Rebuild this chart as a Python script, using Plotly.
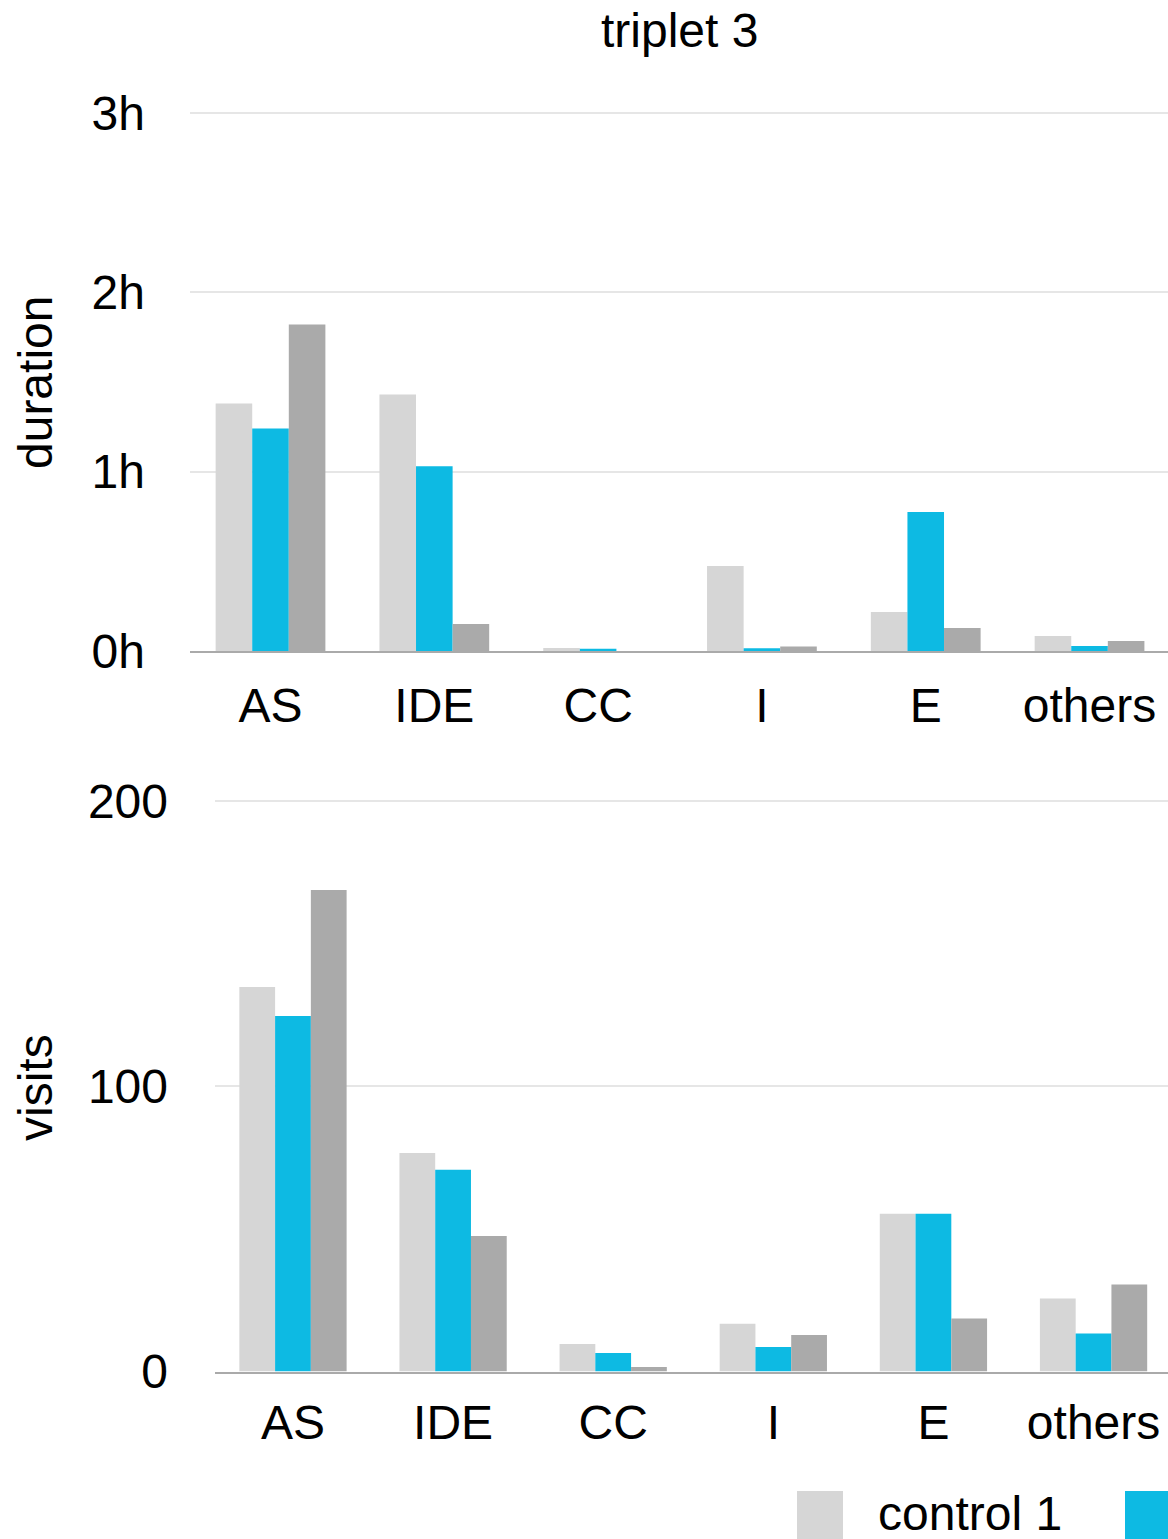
import plotly.graph_objects as go

categories = ["AS", "IDE", "CC", "I", "E", "others"]
series_names = ["control 1", "treatment", "control 2"]
colors = ["#D6D6D6", "#0DBAE3", "#AAAAAA"]

# duration in hours
duration_control1 = [1.38, 1.43, 0.017, 0.474, 0.218, 0.084]
duration_treatment = [1.24, 1.03, 0.013, 0.015, 0.775, 0.028]
duration_control2 = [1.82, 0.151, 0.0, 0.025, 0.128, 0.056]

# visits
visits_control1 = [134.8, 76.6, 9.6, 16.7, 55.3, 25.6]
visits_treatment = [124.6, 70.7, 6.5, 8.6, 55.3, 13.3]
visits_control2 = [168.8, 47.5, 1.6, 12.8, 18.6, 30.5]

duration_ticks = [0, 1, 2, 3]
duration_ticktext = ["0h", "1h", "2h", "3h"]
visits_ticks = [0, 100, 200]
visits_ticktext = ["0", "100", "200"]

title_text = "triplet 3"
ytitle_top = "duration"
ytitle_bottom = "visits"

W, H = 1168, 1539
FONT = "Liberation Sans, Helvetica, Arial, sans-serif"
FS = 48

def px(x):
    return x / W

def py(y):
    return 1 - y / H

fig = go.Figure()

dur = [duration_control1, duration_treatment, duration_control2]
vis = [visits_control1, visits_treatment, visits_control2]
for i in range(3):
    fig.add_trace(go.Bar(x=categories, y=dur[i], name=series_names[i],
                         marker=dict(color=colors[i], line=dict(width=0)),
                         xaxis="x", yaxis="y", showlegend=False))
for i in range(3):
    fig.add_trace(go.Bar(x=categories, y=vis[i], name=series_names[i],
                         marker=dict(color=colors[i], line=dict(width=0)),
                         xaxis="x2", yaxis="y2", showlegend=False))

axis_common = dict(tickfont=dict(family=FONT, size=FS, color="#000000"),
                   automargin=False)

# top: 0h at y=651px, 3h at y=113px  -> 179.33 px per hour
# bottom: 0 at y=1371.5px, 200 at y=801px -> 2.8525 px per visit
fig.update_layout(
    width=W, height=H,
    margin=dict(l=0, r=0, t=0, b=0, pad=0),
    paper_bgcolor="white", plot_bgcolor="white",
    barmode="group",
    font=dict(family=FONT, size=FS, color="#000000"),
    xaxis=dict(domain=[px(190), 1], anchor="y", type="category",
               range=[-0.4915, 5.479], showgrid=False, showline=True,
               linecolor="#AAAAAA", linewidth=2, ticks="",
               ticklabelstandoff=11, **axis_common),
    yaxis=dict(domain=[py(651), py(109.4)], anchor="x", range=[0, 3.02],
               tickvals=duration_ticks, ticktext=duration_ticktext,
               showgrid=True, gridcolor="#E6E6E6", gridwidth=1.5,
               zeroline=False, showline=False, ticks="",
               ticklabelstandoff=44, **axis_common),
    xaxis2=dict(domain=[px(215), 1], anchor="y2", type="category",
                range=[-0.487, 5.465], showgrid=False, showline=True,
                linecolor="#AAAAAA", linewidth=2, ticks="",
                ticklabelstandoff=8, **axis_common),
    yaxis2=dict(domain=[py(1371.5), py(795.3)], anchor="x2", range=[0, 202],
                tickvals=visits_ticks, ticktext=visits_ticktext,
                showgrid=True, gridcolor="#E6E6E6", gridwidth=1.5,
                zeroline=False, showline=False, ticks="",
                ticklabelstandoff=46, **axis_common),
    bargap=0.33,
    bargroupgap=0,
)

annotations = [
    dict(text=title_text, x=px(679), y=py(30), xref="paper", yref="paper",
         xanchor="center", yanchor="middle", showarrow=False,
         font=dict(family=FONT, size=FS, color="#000000")),
    dict(text=ytitle_top, x=px(35), y=py(383), xref="paper", yref="paper",
         xanchor="center", yanchor="middle", textangle=-90, showarrow=False,
         font=dict(family=FONT, size=FS, color="#000000")),
    dict(text=ytitle_bottom, x=px(35), y=py(1088), xref="paper", yref="paper",
         xanchor="center", yanchor="middle", textangle=-90, showarrow=False,
         font=dict(family=FONT, size=FS, color="#000000")),
    dict(text=series_names[0], x=px(876), y=py(1513), xref="paper", yref="paper",
         xanchor="left", yanchor="middle", showarrow=False,
         font=dict(family=FONT, size=FS, color="#000000")),
]
fig.update_layout(annotations=annotations)

shapes = [
    dict(type="rect", xref="paper", yref="paper", x0=px(797), x1=px(843),
         y0=py(1539), y1=py(1491), fillcolor=colors[0], line=dict(width=0)),
    dict(type="rect", xref="paper", yref="paper", x0=px(1125), x1=px(1171),
         y0=py(1539), y1=py(1491), fillcolor=colors[1], line=dict(width=0)),
]
fig.update_layout(shapes=shapes)

fig.write_html("out.html",
               config={"displayModeBar": False},
               post_script="document.body.style.margin='0';"
                           "document.body.style.overflow='hidden';")
